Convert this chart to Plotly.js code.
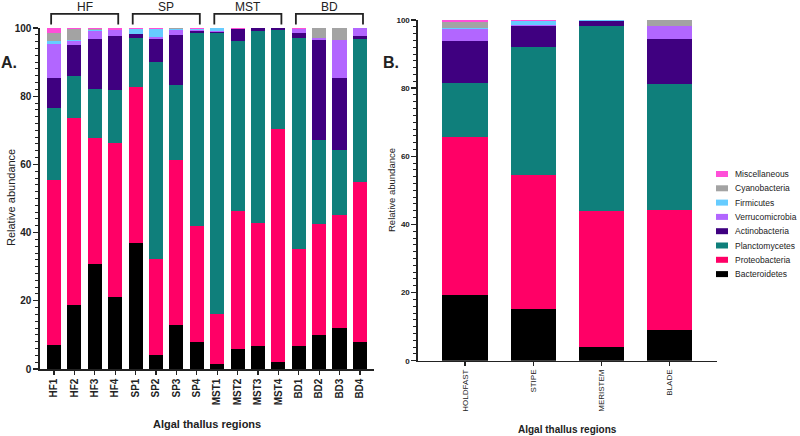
<!DOCTYPE html>
<html><head><meta charset="utf-8">
<script src="https://cdn.plot.ly/plotly-3.0.1.min.js"></script>
<style>html,body{margin:0;padding:0;background:#fff}#chart{width:800px;height:436px}</style>
</head><body><div id="chart"></div>
<script>
const phyla = ["Bacteroidetes","Proteobacteria","Planctomycetes","Actinobacteria","Verrucomicrobia","Firmicutes","Cyanobacteria","Miscellaneous"];
const colors = ["#000000","#ff0066","#0f7f7b","#3f0080","#b266ff","#66ccff","#a3a3a3","#ff4fd8"];

const samples = ["HF1","HF2","HF3","HF4","SP1","SP2","SP3","SP4","MST1","MST2","MST3","MST4","BD1","BD2","BD3","BD4"];
const bacteroidetesA   = [7.0,18.7,30.7,21.1,37.0,4.1,12.8,7.9,1.5,5.9,6.8,2.1,6.7,9.9,12.0,8.0];
const proteobacteriaA  = [48.5,54.9,36.9,45.1,45.7,28.1,48.6,34.1,14.7,40.5,35.9,68.4,28.6,32.5,33.2,46.8];
const planctomycetesA  = [21.1,12.4,14.4,15.6,14.5,57.7,21.9,56.6,82.4,49.7,56.3,28.9,61.9,24.8,18.9,41.9];
const actinobacteriaA  = [8.8,8.9,14.9,15.9,0.9,7.0,14.6,0.4,0.1,3.5,1.0,0.6,1.2,29.2,21.3,1.1];
const verrucomicrobiaA = [9.9,1.4,2.2,1.6,0.2,0.6,1.5,0.4,0.3,0,0,0,1.3,0.7,11.2,2.2];
const firmicutesA      = [0.8,0.2,0.2,0.1,1.4,2.1,0.2,0.4,1.0,0.2,0,0,0,0,0,0];
const cyanobacteriaA   = [2.5,3.1,0.3,0.1,0,0,0.3,0,0,0,0,0,0,2.9,3.4,0];
const miscellaneousA   = [1.4,0.4,0.4,0.5,0.3,0.4,0.1,0.2,0,0.2,0,0,0.3,0,0,0];

const regions = ["HOLDFAST","STIPE","MERISTEM","BLADE"];
const bacteroidetesB   = [19.2,15.3,4.0,9.0];
const proteobacteriaB  = [46.5,39.2,39.8,35.3];
const planctomycetesB  = [15.8,37.7,54.4,36.9];
const actinobacteriaB  = [12.3,5.9,1.4,13.2];
const verrucomicrobiaB = [3.6,0.4,0,3.9];
const firmicutesB      = [0.3,1.1,0.3,0];
const cyanobacteriaB   = [1.7,0,0,1.7];
const miscellaneousB   = [0.6,0.4,0.1,0];

const groups = ["HF","SP","MST","BD"];
const yTicks = [0,20,40,60,80,100];

const seriesA = [bacteroidetesA,proteobacteriaA,planctomycetesA,actinobacteriaA,verrucomicrobiaA,firmicutesA,cyanobacteriaA,miscellaneousA];
const seriesB = [bacteroidetesB,proteobacteriaB,planctomycetesB,actinobacteriaB,verrucomicrobiaB,firmicutesB,cyanobacteriaB,miscellaneousB];

const traces = [];
phyla.forEach((p,i)=>{
  traces.push({type:'bar',name:p,x:samples,y:seriesA[i],xaxis:'x',yaxis:'y',
    marker:{color:colors[i],line:{width:0}},width:0.69,showlegend:false,hoverinfo:'x+y+name'});
});
phyla.forEach((p,i)=>{
  traces.push({type:'bar',name:p,x:regions,y:seriesB[i],xaxis:'x2',yaxis:'y2',
    marker:{color:colors[i],line:{width:0}},width:0.66,showlegend:false,hoverinfo:'x+y+name'});
});

const FONT = 'Liberation Sans, Arial';
const axisLine = {showline:true,linecolor:'#222',linewidth:1.6,zeroline:false,showgrid:false};
const shapes = [];
const annotations = [];
// group brackets
groups.forEach((g,k)=>{
  const x0 = k*4-0.14, x1 = k*4+3+0.15;
  shapes.push({type:'path',xref:'x',yref:'paper',
    path:`M ${x0},0.944 L ${x0},0.968 L ${x1},0.968 L ${x1},0.944`,
    line:{color:'#222',width:1.8}});
  annotations.push({xref:'x',yref:'paper',x:k*4+1.5,y:0.985,text:g,showarrow:false,
    font:{family:FONT,size:12,color:'#222'},xanchor:'center',yanchor:'middle'});
});
// legend (drawn from phyla/colors, top item = last phylum)
const W=800,H=436;
for (let k=0;k<phyla.length;k++){
  const i = phyla.length-1-k;
  const yc = 174 + 14.3*k;
  shapes.push({type:'rect',xref:'paper',yref:'paper',x0:716/W,x1:728/W,y0:1-(yc+3)/H,y1:1-(yc-3)/H,
    fillcolor:colors[i],line:{width:0}});
  annotations.push({xref:'paper',yref:'paper',x:733/W,y:1-yc/H,text:phyla[i],showarrow:false,
    xanchor:'left',yanchor:'middle',font:{family:FONT,size:8.5,color:'#222'}});
}
const txt = (x,y,text,size,angle)=>({xref:'paper',yref:'paper',x:x/W,y:1-y/H,text:text,showarrow:false,
  xanchor:'center',yanchor:'middle',textangle:angle||0,font:{family:FONT,size:size,color:'#222'}});
annotations.push(
  txt(11,198,'Relative abundance',11,-90),
  txt(392,190,'Relative abundance',9.5,-90),
  txt(207,424,'<b>Algal thallus regions</b>',11),
  txt(567,429,'<b>Algal thallus regions</b>',10),
  txt(9,62,'<b>A.</b>',16),
  txt(391,62,'<b>B.</b>',16)
);

const layout = {
  width:800,height:436,margin:{l:0,r:0,t:0,b:0},showlegend:false,
  paper_bgcolor:'#fff',plot_bgcolor:'#fff',barmode:'stack',bargap:0.3,
  font:{family:FONT,color:'#222'},
  xaxis:Object.assign({},axisLine,{domain:[40/W,374/W],type:'category',range:[-0.686,15.69],
    tickangle:-90,ticks:'outside',ticklen:4,tickwidth:1.2,tickcolor:'#222',
    tickfont:{family:FONT,size:10,color:'#222',weight:'bold'},anchor:'y'}),
  yaxis:Object.assign({},axisLine,{domain:[(H-369)/H,(H-28)/H],range:[0,100],
    tickvals:yTicks,ticks:'outside',ticklen:5,tickwidth:1.4,tickcolor:'#222',
    minor:{dtick:2,ticks:'outside',ticklen:3,tickwidth:1,tickcolor:'#222'},
    tickfont:{family:FONT,size:10,color:'#222',weight:'bold'},anchor:'x'}),
  xaxis2:Object.assign({},axisLine,{domain:[418/W,717/W],type:'category',range:[-0.688,3.69],
    tickangle:-90,ticks:'outside',ticklen:4,tickwidth:1.2,tickcolor:'#222',
    tickfont:{family:FONT,size:8,color:'#222'},anchor:'y2'}),
  yaxis2:Object.assign({},axisLine,{domain:[(H-360.7)/H,(H-20)/H],range:[0,100],
    tickvals:yTicks,ticks:'outside',ticklen:5,tickwidth:1.4,tickcolor:'#222',
    minor:{dtick:2,ticks:'outside',ticklen:3,tickwidth:1,tickcolor:'#222'},
    tickfont:{family:FONT,size:8,color:'#222',weight:'bold'},anchor:'x2'}),
  shapes:shapes,annotations:annotations
};
Plotly.newPlot('chart',traces,layout,{displayModeBar:false,staticPlot:true});
</script></body></html>
